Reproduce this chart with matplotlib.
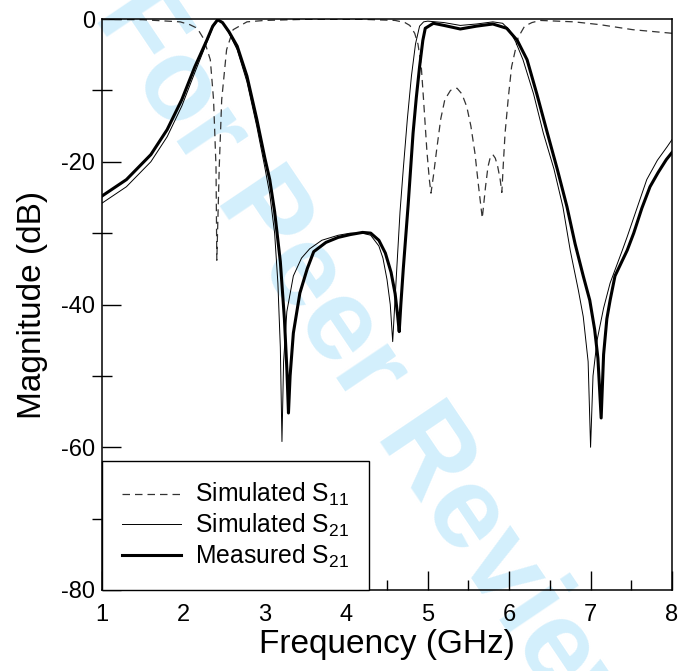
import matplotlib
matplotlib.use('Agg')
import matplotlib.pyplot as plt
from matplotlib.ticker import MultipleLocator

plt.rcParams['font.family'] = ['Liberation Sans', 'DejaVu Sans']
plt.rcParams['mathtext.default'] = 'regular'
plt.rcParams['axes.unicode_minus'] = False

# simulated S11 (dashed)
s11_f = [1.0, 1.5, 1.96, 2.08, 2.17, 2.25, 2.33, 2.37, 2.40, 2.41, 2.44, 2.47, 2.53,
         2.61, 2.78, 3.0, 3.5, 4.2, 4.6, 4.72, 4.78, 4.84, 4.88, 4.92, 4.95, 4.99,
         5.02, 5.04, 5.07, 5.11, 5.16, 5.21, 5.28, 5.36, 5.42, 5.48, 5.53, 5.58, 5.62,
         5.67, 5.71, 5.74, 5.77, 5.80, 5.83, 5.86, 5.89, 5.91, 5.93, 5.95, 5.99, 6.03,
         6.11, 6.19, 6.28, 6.38, 6.8, 7.12, 7.52, 8.0]
s11_db = [-0.05, -0.1, -0.4, -0.8, -1.3, -2.8, -5.7, -11.3, -20.7, -33.8, -20.7, -11.3, -4.3,
          -1.5, -0.4, -0.2, -0.05, -0.05, -0.2, -0.5, -0.9, -2.0, -3.5, -6.5, -11.5, -18.5,
          -22.5, -24.4, -22.0, -18.3, -14.0, -11.3, -10.0, -9.7, -10.5, -12.3, -15.0, -18.8, -23.0,
          -27.9, -23.5, -20.7, -19.3, -19.0, -19.5, -20.7, -22.5, -24.3, -20.0, -16.0, -11.0, -6.7,
          -2.6, -1.0, -0.5, -0.2, -0.4, -0.8, -1.5, -2.0]

# simulated S21 (thin)
sim_f = [1.0, 1.3, 1.6, 1.8, 1.98, 2.14, 2.29, 2.36, 2.43, 2.48, 2.56, 2.66, 2.78, 2.9,
         3.0, 3.06, 3.12, 3.16, 3.19, 3.21, 3.23, 3.27, 3.35, 3.45, 3.55, 3.7, 3.9, 4.05,
         4.2, 4.3, 4.4, 4.45, 4.5, 4.54, 4.57, 4.6, 4.63, 4.66, 4.7, 4.75, 4.8, 4.85, 4.9,
         4.95, 5.0, 5.2, 5.4, 5.6, 5.8, 5.92, 6.0, 6.08, 6.17, 6.3, 6.42, 6.55, 6.66,
         6.75, 6.85, 6.91, 6.97, 7.0, 7.03, 7.08, 7.16, 7.24, 7.39, 7.45, 7.57, 7.69,
         7.82, 7.94, 8.0]
sim_db = [-25.8, -23.5, -20.0, -16.5, -12.2, -7.5, -3.2, -1.2, -0.1, -0.5, -2.0, -4.3, -8.8, -15.0,
          -20.8, -24.5, -30.0, -37.0, -46.0, -59.2, -48.0, -41.0, -36.0, -33.5, -32.2, -31.0, -30.3, -30.0,
          -30.0, -30.3, -31.8, -33.5, -36.5, -40.0, -45.2, -39.0, -33.0, -27.0, -21.0, -14.0, -8.0, -3.5, -1.0,
          -0.4, -0.3, -0.5, -0.9, -0.7, -0.4, -0.6, -1.5, -3.2, -5.7, -10.5, -16.0, -21.0, -26.3,
          -32.4, -38.0, -41.7, -48.0, -60.0, -50.0, -45.0, -40.5, -37.0, -32.4, -30.5, -26.5, -22.5,
          -19.8, -17.9, -16.9]

# measured S21 (thick)
meas_f = [1.0, 1.3, 1.6, 1.8, 1.98, 2.14, 2.29, 2.36, 2.42, 2.48, 2.56, 2.66, 2.78, 2.9,
          3.0, 3.06, 3.12, 3.19, 3.24, 3.27, 3.29, 3.31, 3.35, 3.43, 3.52, 3.6, 3.75, 3.9,
          4.05, 4.2, 4.3, 4.4, 4.48, 4.55, 4.6, 4.63, 4.65, 4.67, 4.7, 4.76, 4.82, 4.86,
          4.9, 4.94, 4.97, 5.07, 5.2, 5.4, 5.6, 5.8, 5.97, 6.1, 6.22, 6.34, 6.47, 6.59,
          6.71, 6.81, 6.91, 6.99, 7.05, 7.09, 7.13, 7.16, 7.2, 7.24, 7.3, 7.45, 7.53,
          7.63, 7.73, 7.83, 7.93, 8.0]
meas_db = [-24.8, -22.5, -19.0, -15.5, -11.3, -6.7, -2.9, -1.0, -0.1, -0.5, -1.8, -3.8, -8.0, -14.0,
           -19.5, -22.5, -27.0, -34.0, -42.0, -49.0, -55.2, -50.0, -44.0, -38.4, -35.0, -32.6, -31.3, -30.6,
           -30.2, -29.9, -30.0, -31.0, -32.8, -35.5, -38.5, -41.5, -43.8, -40.0, -35.0, -26.0, -16.0, -11.0,
           -6.7, -3.0, -1.3, -0.6, -0.9, -1.4, -1.0, -0.7, -1.3, -3.0, -5.7, -10.5, -16.0, -21.0,
           -26.3, -31.5, -36.0, -39.4, -43.5, -47.5, -55.9, -47.0, -42.0, -39.4, -36.0, -32.4, -30.0,
           -26.5, -23.5, -21.5, -19.7, -18.7]

fig = plt.figure(figsize=(6.81, 6.71), dpi=100)
ax = fig.add_axes([102 / 681, 81 / 671, 570 / 681, 571 / 671])
ax.patch.set_alpha(0)

# review watermark behind the axes (runs off the page, as in the original)
fig.text(0.545, 0.44, 'For Peer Review', rotation=-56, color='#d3effc', fontsize=84,
         fontweight='bold', ha='center', va='center', zorder=-1)

ax.plot(s11_f, s11_db, color='#333333', lw=0.9, dashes=(6, 4), label='Simulated S$_{11}$')
ax.plot(sim_f, sim_db, color='black', lw=0.7, label='Simulated S$_{21}$')
ax.plot(meas_f, meas_db, color='black', lw=2.2, label='Measured S$_{21}$')

ax.set_xlim(1, 8)
ax.set_ylim(-80, 0)
ax.xaxis.set_major_locator(MultipleLocator(1))
ax.xaxis.set_minor_locator(MultipleLocator(0.5))
ax.yaxis.set_major_locator(MultipleLocator(20))
ax.yaxis.set_minor_locator(MultipleLocator(10))
ax.tick_params(axis='x', which='major', direction='in', length=13.5, width=1, labelsize=17, pad=10)
ax.tick_params(axis='x', which='minor', direction='in', length=7, width=1)
ax.tick_params(axis='y', which='major', direction='in', length=13.5, width=1, labelsize=17, pad=5)
ax.tick_params(axis='y', which='minor', direction='inout', length=14, width=1)
for sp in ax.spines.values():
    sp.set_linewidth(1.1)

ax.set_xlabel('Frequency (GHz)', fontsize=24, labelpad=2)
ax.set_ylabel('Magnitude (dB)', fontsize=24, labelpad=9)

leg = ax.legend(loc='lower left', fontsize=17.8, frameon=True, fancybox=False,
                borderaxespad=0, handlelength=2.4, handletextpad=0.55, edgecolor='black',
                framealpha=1, labelspacing=0.15, borderpad=0.8)
leg.get_frame().set_linewidth(1.0)

plt.savefig('out.png', dpi=100)
